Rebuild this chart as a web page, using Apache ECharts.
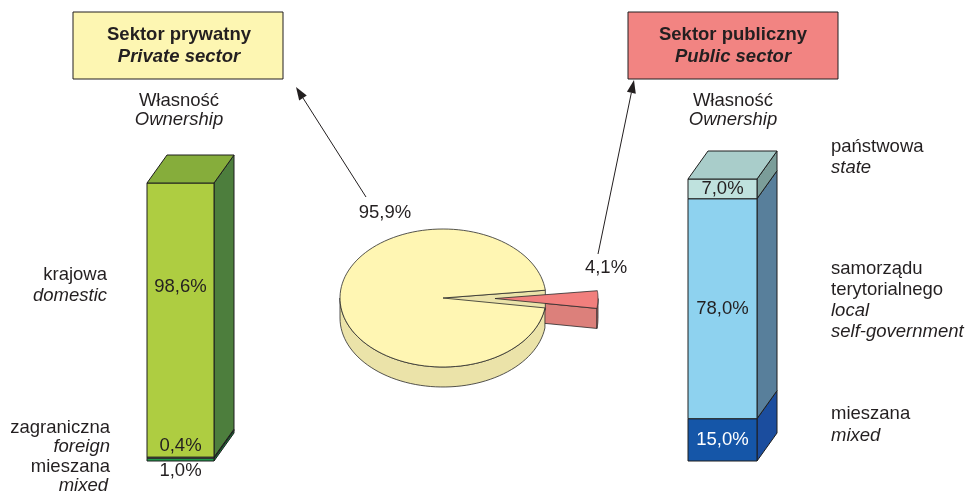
<!DOCTYPE html>
<html>
<head>
<meta charset="utf-8">
<script src="https://cdn.jsdelivr.net/npm/echarts@6/dist/echarts.min.js"></script>
<style>
  html, body { margin: 0; padding: 0; background: #fff; }
  #chart { width: 969px; height: 493px; }
</style>
</head>
<body>
<div id="chart"></div>
<script>
// pie: private vs public sector share
const pieNames = ['Sektor prywatny', 'Sektor publiczny'];
const pieValues = [95.9, 4.1];

// bars, bottom to top
const privateCats = ['mieszana', 'zagraniczna', 'krajowa'];
const privateValues = [1.0, 0.4, 98.6];
const publicCats = ['mieszana', 'samorządu terytorialnego', 'państwowa'];
const publicValues = [15.0, 78.0, 7.0];

const FONT = 'Liberation Sans';
const FS = '18.5px';
const TXT = '#231f20';
const fmt = v => v.toFixed(1).replace('.', ',') + '%';

function stack(values) {
  let s = 0;
  return values.map(v => { const item = [0, s, s + v]; s += v; return item; });
}

// 3D box offset
const DX = 20, DY = -28;

function barRenderer(style) {
  return function (params, api) {
    const i = params.dataIndex;
    const n = style.front.length;
    const p0 = api.coord([0, api.value(1)]);
    const p1 = api.coord([0, api.value(2)]);
    const w = api.size([1, 0])[0];
    const x0 = p0[0] - w / 2, x1 = p0[0] + w / 2;
    const yb = p0[1], yt = p1[1];
    const stroke = { stroke: '#1e1e1e', lineWidth: 1 };
    const children = [
      { type: 'polygon', shape: { points: [[x1, yt], [x1 + DX, yt + DY], [x1 + DX, yb + DY], [x1, yb]] },
        style: Object.assign({ fill: style.side[i] }, stroke) },
      { type: 'rect', shape: { x: x0, y: yt, width: w, height: yb - yt },
        style: Object.assign({ fill: style.front[i] }, stroke) }
    ];
    if (i === n - 1) {
      children.push({ type: 'polygon', shape: { points: [[x0, yt], [x0 + DX, yt + DY], [x1 + DX, yt + DY], [x1, yt]] },
        style: Object.assign({ fill: style.top }, stroke) });
    }
    const place = style.place[i];
    let ly = (yt + yb) / 2;
    if (place === 'above') ly = yt - 11;
    else if (place === 'below') ly = yb + 10;
    else if (place === 'upper') ly = yt + 0.38 * (yb - yt);
    children.push({ type: 'text', z2: 5, style: { text: fmt(style.values[i]), x: p0[0], y: ly,
      align: 'center', verticalAlign: 'middle', font: FS + ' "' + FONT + '"', fill: style.label[i] } });
    return { type: 'group', children: children };
  };
}

// pie geometry
const PIE = { cx: 443, cy: 298, rx: 103, ry: 69, depth: 20, start: 6.5, explode: [0, 52] };
const pieTop = ['#fff6b3', '#f17f7d'];
const pieSide = ['#ebe3a9', '#dc807b'];

function pieRenderer(params, api) {
  const i = params.dataIndex;
  const total = pieValues.reduce((a, b) => a + b, 0);
  let a0 = PIE.start;
  for (let k = 0; k < i; k++) a0 += pieValues[k] / total * 360;
  const a1 = a0 + api.value(0) / total * 360;
  const rad = d => d * Math.PI / 180;
  const mid = rad((a0 + a1) / 2);
  const e = PIE.explode[i];
  const ox = e * Math.cos(mid), oy = -e * PIE.ry / PIE.rx * Math.sin(mid);
  const P = (deg, down) => [PIE.cx + ox + PIE.rx * Math.cos(rad(deg)),
    PIE.cy + oy - PIE.ry * Math.sin(rad(deg)) + (down || 0)];
  const C = [PIE.cx + ox, PIE.cy + oy];
  const D = PIE.depth;
  const stroke = { stroke: '#2a2a2a', lineWidth: 0.8 };
  const sideZ = e ? 1 : 5, topZ = e ? 20 : 10;
  const children = [];
  // cut faces
  const cut = a => ({ type: 'polygon', z2: sideZ,
    shape: { points: [C, P(a), P(a, D), [C[0], C[1] + D]] },
    style: Object.assign({ fill: pieSide[i] }, stroke) });
  if (Math.cos(rad(a0)) > 0) children.push(cut(a0));
  if (Math.cos(rad(a1)) < 0) children.push(cut(a1));
  // outer rim, visible front half
  [[180, 360], [540, 720]].forEach(r => {
    const s = Math.max(a0, r[0]), t = Math.min(a1, r[1]);
    if (t <= s) return;
    const top = [], bot = [];
    for (let k = 0; k <= 60; k++) {
      const d = s + (t - s) * k / 60;
      top.push(P(d)); bot.unshift(P(d, D));
    }
    children.push({ type: 'polygon', z2: sideZ, shape: { points: top.concat(bot) },
      style: Object.assign({ fill: pieSide[i] }, stroke) });
  });
  // top face
  const pts = [C];
  for (let k = 0; k <= 120; k++) pts.push(P(a0 + (a1 - a0) * k / 120));
  children.push({ type: 'polygon', z2: topZ, shape: { points: pts },
    style: Object.assign({ fill: pieTop[i] }, stroke) });
  return { type: 'group', children: children };
}

function arrow(x1, y1, x2, y2) {
  const ang = Math.atan2(y2 - y1, x2 - x1);
  const L = 13, W = 4.5;
  const bx = x2 - L * Math.cos(ang), by = y2 - L * Math.sin(ang);
  return [
    { type: 'line', shape: { x1: x1, y1: y1, x2: bx, y2: by }, style: { stroke: '#231f20', lineWidth: 1 } },
    { type: 'polygon', shape: { points: [[x2, y2],
      [bx + W * Math.sin(ang), by - W * Math.cos(ang)],
      [bx - W * Math.sin(ang), by + W * Math.cos(ang)]] }, style: { fill: '#231f20' } }
  ];
}

function txt(text, x, y, opts) {
  return { type: 'text', style: Object.assign({ text: text, x: x, y: y, align: 'center', verticalAlign: 'middle',
    font: FS + ' "' + FONT + '"', fill: TXT }, opts || {}) };
}
const IT = 'italic ' + FS + ' "' + FONT + '"';

const chart = echarts.init(document.getElementById('chart'), null, { renderer: 'canvas' });

const option = {
  backgroundColor: '#ffffff',
  animation: false,
  grid: [
    { left: 147, top: 183, width: 67, height: 278 },
    { left: 688, top: 179, width: 69, height: 282 }
  ],
  xAxis: [
    { type: 'category', gridIndex: 0, data: ['prywatny'], show: false },
    { type: 'category', gridIndex: 1, data: ['publiczny'], show: false }
  ],
  yAxis: [
    { type: 'value', gridIndex: 0, min: 0, max: 100, show: false },
    { type: 'value', gridIndex: 1, min: 0, max: 100, show: false }
  ],
  series: [
    {
      type: 'custom', name: pieNames.join(' / '), coordinateSystem: 'none',
      data: pieValues.map(v => [v]),
      renderItem: pieRenderer
    },
    {
      type: 'custom', name: 'private', xAxisIndex: 0, yAxisIndex: 0,
      encode: { x: 0, y: [1, 2] },
      data: stack(privateValues),
      renderItem: barRenderer({
        values: privateValues,
        front: ['#1e9a4b', '#d9ebc6', '#aecd41'],
        side: ['#167a3a', '#5f8f4f', '#4d7e3d'],
        top: '#86ad3b',
        label: [TXT, TXT, TXT],
        place: ['below', 'above', 'upper']
      })
    },
    {
      type: 'custom', name: 'public', xAxisIndex: 1, yAxisIndex: 1,
      encode: { x: 0, y: [1, 2] },
      data: stack(publicValues),
      renderItem: barRenderer({
        values: publicValues,
        front: ['#1556a8', '#8ed2ef', '#bfe2de'],
        side: ['#1b4d9e', '#587f9b', '#7b9d99'],
        top: '#a9cdca',
        label: ['#ffffff', TXT, TXT],
        place: ['mid', 'mid', 'mid']
      })
    }
  ],
  graphic: [
    // sector boxes
    { type: 'rect', shape: { x: 73, y: 12, width: 210, height: 67 }, style: { fill: '#fdf6b2', stroke: '#231f20', lineWidth: 1 } },
    txt('Sektor prywatny', 179, 35, { font: 'bold 18.5px "' + FONT + '"' }),
    txt('Private sector', 179, 57, { font: 'italic bold 18.5px "' + FONT + '"' }),
    { type: 'rect', shape: { x: 628, y: 12, width: 210, height: 67 }, style: { fill: '#f28482', stroke: '#231f20', lineWidth: 1 } },
    txt('Sektor publiczny', 733, 35, { font: 'bold 18.5px "' + FONT + '"' }),
    txt('Public sector', 733, 57, { font: 'italic bold 18.5px "' + FONT + '"' }),
    // ownership headings
    txt('Własność', 179, 101),
    txt('Ownership', 179, 120, { font: IT }),
    txt('Własność', 733, 101),
    txt('Ownership', 733, 120, { font: IT }),
    // pie labels
    txt(fmt(pieValues[0]), 385, 213),
    txt(fmt(pieValues[1]), 606, 268),
    // left category labels
    txt(privateCats[2], 107, 275, { align: 'right' }),
    txt('domestic', 107, 296, { align: 'right', font: IT }),
    txt(privateCats[1], 110, 428, { align: 'right' }),
    txt('foreign', 110, 447, { align: 'right', font: IT }),
    txt(privateCats[0], 110, 467, { align: 'right' }),
    txt('mixed', 108, 486, { align: 'right', font: IT }),
    // right category labels
    txt(publicCats[2], 831, 147, { align: 'left' }),
    txt('state', 831, 168, { align: 'left', font: IT }),
    txt('samorządu', 831, 269, { align: 'left' }),
    txt('terytorialnego', 831, 290, { align: 'left' }),
    txt('local', 831, 311, { align: 'left', font: IT }),
    txt('self-government', 831, 332, { align: 'left', font: IT }),
    txt(publicCats[0], 831, 414, { align: 'left' }),
    txt('mixed', 831, 436, { align: 'left', font: IT })
  ].concat(arrow(366, 197, 296, 87), arrow(598, 254, 634, 80))
};

chart.setOption(option);
window.addEventListener('resize', function () {
  chart.resize();
});
</script>
</body>
</html>
